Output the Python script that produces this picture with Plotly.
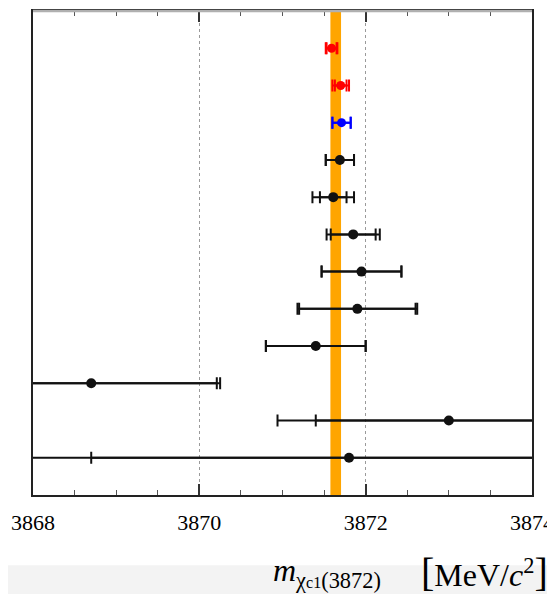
import plotly.graph_objects as go

# Measurements of the chi_c1(3872) mass (MeV/c^2), rows from top to bottom
rows = [1, 2, 3, 4, 5, 6, 7, 8, 9, 10, 11, 12]
mass = [3871.59, 3871.70, 3871.71, 3871.69, 3871.61, 3871.85, 3871.95, 3871.90,
        3871.40, 3868.70, 3873.00, 3871.80]
stat_err = [0.06, 0.07, 0.11, 0.17, 0.16, 0.27, 0.48, 0.70, 0.60, 1.51, 1.60, 3.10]
tot_err = [0.07, 0.10, 0.11, 0.17, 0.25, 0.32, 0.48, 0.72, 0.60, 1.55, 2.06, 4.00]
groups = ["red", "red", "blue", "black", "black", "black", "black", "black",
          "black", "black", "black", "black"]

avg_mass = 3871.64
avg_err = 0.064

x_range = [3868, 3874]
x_ticks = [3868, 3870, 3872, 3874]

colors = {"red": "#ff0000", "blue": "#0000ff", "black": "#111111"}
msize = {"red": 9, "blue": 9, "black": 10}

SERIF = "Liberation Serif, Times New Roman, Times, serif"

fig = go.Figure()

for g in ["black", "blue", "red"]:
    idx = [i for i, gg in enumerate(groups) if gg == g]
    xs = [mass[i] for i in idx]
    ys = [rows[i] for i in idx]
    # total uncertainty (outer caps)
    fig.add_trace(go.Scatter(
        x=xs, y=ys, mode="markers",
        marker=dict(size=1, color="rgba(0,0,0,0)"),
        error_x=dict(type="data", symmetric=True, array=[tot_err[i] for i in idx],
                     color=colors[g], thickness=2, width=6),
        showlegend=False, hoverinfo="skip"))
    # statistical uncertainty (inner caps) + central value
    fig.add_trace(go.Scatter(
        x=xs, y=ys, mode="markers",
        marker=dict(size=msize[g], color=colors[g]),
        error_x=dict(type="data", symmetric=True, array=[stat_err[i] for i in idx],
                     color=colors[g], thickness=2, width=6),
        showlegend=False))

# average band
fig.add_shape(type="rect", xref="x", yref="paper",
              x0=avg_mass - avg_err, x1=avg_mass + avg_err, y0=0, y1=1,
              fillcolor="#ffa500", line=dict(width=0), layer="between")

# light gray strip at the very bottom of the image
fig.add_shape(type="rect", xref="paper", yref="paper", x0=-0.2, x1=1.2,
              y0=-0.3, y1=-0.145, fillcolor="#f3f3f3", line=dict(width=0),
              layer="below")

# light top frame line
fig.add_shape(type="line", xref="paper", yref="paper", x0=0, x1=1, y0=1, y1=1,
              line=dict(color="#b0b0b0", width=2.5), layer="above")

fig.update_layout(
    width=547, height=586,
    margin=dict(l=25, r=23, t=3, b=99, autoexpand=False),
    paper_bgcolor="white", plot_bgcolor="white",
    font=dict(family=SERIF, color="black"),
    xaxis=dict(
        range=x_range, tickvals=x_ticks, ticktext=[str(v) for v in x_ticks],
        ticks="inside", ticklen=11, tickwidth=1.5, tickcolor="#333",
        showline=True, linecolor="#222", linewidth=2, mirror="ticks",
        showgrid=True, gridcolor="#9a9a9a", griddash="dot", gridwidth=1,
        zeroline=False, automargin=False, ticklabeloverflow="allow",
        tickfont=dict(family=SERIF, size=22, color="black"),
        minor=dict(dtick=0.5, ticks="inside", ticklen=5, tickcolor="#555",
                   tickwidth=1, showgrid=False),
        ticklabelstandoff=7,
    ),
    yaxis=dict(
        range=[13, 0], showticklabels=False, ticks="", showgrid=False,
        zeroline=False, showline=True, linecolor="#222", linewidth=2, mirror=True,
        automargin=False,
    ),
)

fig.add_annotation(xref="paper", yref="paper", x=0.59, y=-0.113,
                   text="<i>m</i><sub>χ<span style='font-size:16px'>c1</span>(3872)</sub>",
                   showarrow=False, font=dict(family=SERIF, size=32),
                   xanchor="center", yanchor="top")
fig.add_annotation(xref="paper", yref="paper", x=0.905, y=-0.11,
                   text="<span style='font-size:40px'>[</span>MeV/<i>c</i><sup>2</sup><span style='font-size:40px'>]</span>",
                   showarrow=False, font=dict(family=SERIF, size=32),
                   xanchor="center", yanchor="top")

fig.write_html("out.html")
